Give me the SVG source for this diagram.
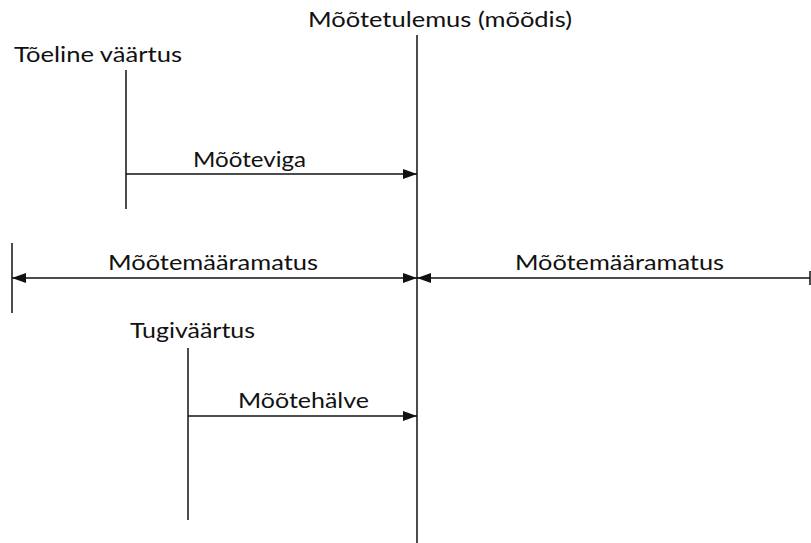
<svg xmlns="http://www.w3.org/2000/svg" width="811" height="543" viewBox="0 0 811 543">
<style>
text{font-family:Lato,"Open Sans","Noto Sans","Liberation Sans",sans-serif;font-size:21px;fill:#111}
.l{stroke:#111;stroke-width:1.5;fill:none}
</style>
<defs>
<marker id="ah" viewBox="0 0 14 10" refX="14" refY="5" markerWidth="14" markerHeight="10" markerUnits="userSpaceOnUse" orient="auto-start-reverse">
<path d="M0,0L14,5L0,10Z" fill="#111"/>
</marker>
</defs>
<rect width="811" height="543" fill="#fff"/>
<g id="measured">
<line class="l" x1="417" y1="35" x2="417" y2="543"/>
<text x="308" y="27" textLength="264" lengthAdjust="spacingAndGlyphs">Mõõtetulemus (mõõdis)</text>
</g>
<g id="true-value">
<line class="l" x1="126" y1="70" x2="126" y2="209"/>
<text x="14" y="62" textLength="168" lengthAdjust="spacingAndGlyphs">Tõeline väärtus</text>
</g>
<g id="left-bound">
<line class="l" x1="12" y1="243" x2="12" y2="313"/>
</g>
<g id="right-bound">
<line class="l" x1="810" y1="271" x2="810" y2="285"/>
</g>
<g id="reference-value">
<line class="l" x1="188" y1="348" x2="188" y2="520"/>
<text x="130" y="338" textLength="125" lengthAdjust="spacingAndGlyphs">Tugiväärtus</text>
</g>
<g id="connectors">
<line class="l" x1="126" y1="174" x2="417" y2="174" marker-end="url(#ah)"/>
<text x="193" y="167" textLength="113" lengthAdjust="spacingAndGlyphs">Mõõteviga</text>
<line class="l" x1="12" y1="278" x2="417" y2="278" marker-start="url(#ah)" marker-end="url(#ah)"/>
<text x="108" y="270" textLength="210" lengthAdjust="spacingAndGlyphs">Mõõtemääramatus</text>
<line class="l" x1="417" y1="278" x2="810" y2="278" marker-start="url(#ah)"/>
<text x="515" y="270" textLength="209" lengthAdjust="spacingAndGlyphs">Mõõtemääramatus</text>
<line class="l" x1="188" y1="416" x2="417" y2="416" marker-end="url(#ah)"/>
<text x="238" y="408" textLength="131" lengthAdjust="spacingAndGlyphs">Mõõtehälve</text>
</g>
</svg>
